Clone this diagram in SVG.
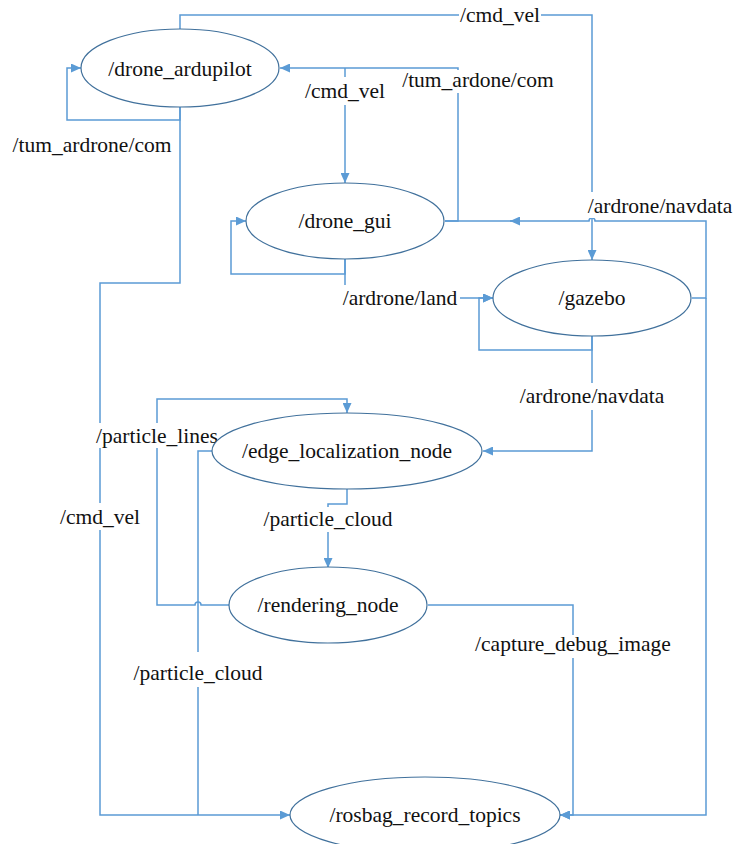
<svg xmlns="http://www.w3.org/2000/svg" width="733" height="844" viewBox="0 0 733 844" font-family="Liberation Serif, Times New Roman, Times, serif">
<defs>
<marker id="arr" markerUnits="userSpaceOnUse" markerWidth="10" markerHeight="9" refX="10" refY="4.5" orient="auto">
<path d="M0,0 L10,4.5 L0,9 z" fill="#5b9bd5"/>
</marker>
<style>
.c{fill:none;stroke:#5b9bd5;stroke-width:1.5}
.a{marker-end:url(#arr)}
.n{fill:#fff;stroke:#41719c;stroke-width:1.2}
.t{font-size:21.5px;fill:#111;text-anchor:middle}
.bg{fill:#fff}
</style>
</defs>
<rect width="733" height="844" fill="#fff"/>
<g id="connectors">
<path class="c a" d="M180,29 V15 H592 V260"/>
<path class="c a" d="M180,107 V120 H67 V68 H81"/>
<path class="c a" d="M180,107 V283 H100 V815 H290"/>
<path class="c a" d="M345,68 V183"/>
<path class="c a" d="M445,221 H458 V68 H280"/>
<path class="c a" d="M345,259 V274 H231 V221 H246"/>
<path class="c a" d="M345,259 V298 H493"/>
<path class="c a" d="M592,336 V350 H479 V298 H493"/>
<path class="c" d="M692,298 H706 V221 H595 a3,3 0 0 0 -6,0 H445"/>
<path class="c a" d="M520,221 H510"/>
<path class="c a" d="M706,298 V815 H560"/>
<path class="c a" d="M592,336 V451 H483"/>
<path class="c a" d="M347,489 V504 H328 V568"/>
<path class="c a" d="M229,605 H201 a3,3 0 0 0 -6,0 H157 V399 H347 V413"/>
<path class="c" d="M212,451 H198 V815"/>
<path class="c a" d="M428,605 H573 V815 H560"/>
<g id="labels">
<rect class="bg" x="459" y="4" width="82" height="23"/>
<text class="t" x="500" y="22">/cmd_vel</text>
<rect class="bg" x="304" y="77" width="82" height="28"/>
<text class="t" x="345" y="98">/cmd_vel</text>
<rect class="bg" x="402" y="70" width="152" height="23"/>
<text class="t" x="478" y="87">/tum_ardone/com</text>
<text class="t" x="92" y="152">/tum_ardrone/com</text>
<rect class="bg" x="588" y="192" width="145" height="26"/>
<text class="t" x="660" y="213">/ardrone/navdata</text>
<rect class="bg" x="342" y="285" width="118" height="26"/>
<text class="t" x="400" y="305">/ardrone/land</text>
<rect class="bg" x="519" y="383" width="147" height="27"/>
<text class="t" x="592" y="403">/ardrone/navdata</text>
<rect class="bg" x="96" y="423" width="116" height="25"/>
<text class="t" x="157" y="443">/particle_lines</text>
<rect class="bg" x="262" y="507" width="132" height="25"/>
<text class="t" x="328" y="526">/particle_cloud</text>
<rect class="bg" x="59" y="503" width="82" height="27"/>
<text class="t" x="100" y="524">/cmd_vel</text>
<rect class="bg" x="132" y="652" width="132" height="35"/>
<text class="t" x="198" y="680">/particle_cloud</text>
<rect class="bg" x="474" y="635" width="199" height="23"/>
<text class="t" x="573" y="651">/capture_debug_image</text>
</g>
</g>
<g id="drone_ardupilot"><ellipse class="n" cx="180" cy="68" rx="99" ry="39"/><text class="t" x="180" y="76">/drone_ardupilot</text></g>
<g id="drone_gui"><ellipse class="n" cx="345" cy="221" rx="99" ry="38"/><text class="t" x="345" y="228">/drone_gui</text></g>
<g id="gazebo"><ellipse class="n" cx="592" cy="298" rx="99" ry="38"/><text class="t" x="592" y="305">/gazebo</text></g>
<g id="edge_localization_node"><ellipse class="n" cx="347" cy="451" rx="135" ry="38"/><text class="t" x="347" y="458">/edge_localization_node</text></g>
<g id="rendering_node"><ellipse class="n" cx="328" cy="605" rx="99" ry="38"/><text class="t" x="328" y="612">/rendering_node</text></g>
<g id="rosbag_record_topics"><ellipse class="n" cx="425" cy="815" rx="135" ry="38"/><text class="t" x="425" y="822">/rosbag_record_topics</text></g>
</svg>
